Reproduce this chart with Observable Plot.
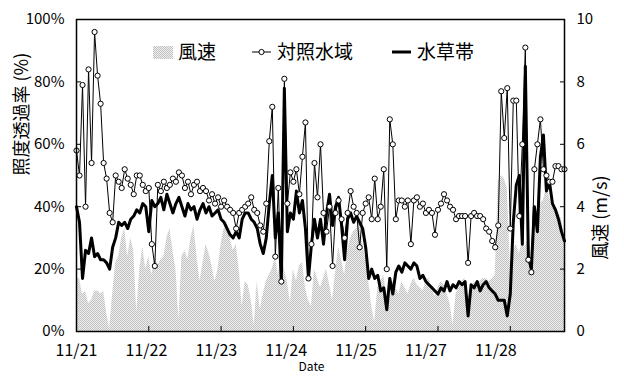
<!DOCTYPE html>
<html>
<head>
<meta charset="utf-8">
<script src="https://cdn.jsdelivr.net/npm/d3@7"></script>
<script src="https://cdn.jsdelivr.net/npm/@observablehq/plot@0.6"></script>
<style>
  body { margin: 0; background: #fff; }
  #chart { width: 624px; height: 377px; }
</style>
</head>
<body>
<div id="chart"></div>
<script>
// Date labels along the bottom axis (one per day; 11/26 was not recorded)
const dayLabels = ["11/21", "11/22", "11/23", "11/24", "11/25", "11/27", "11/28"];

// Hourly light transmittance (%) – open water (control)
const controlWater = [
  58, 50, 79, 40, 84, 54, 96, 82, 73, 54, 49, 38, 35, 50, 48, 46, 52, 49, 47, 44, 50, 50, 47, 45,
  46, 28, 21, 47, 45, 48, 46, 47, 49, 48, 51, 50, 46, 48, 44, 47, 48, 45, 46, 45, 42, 44, 41, 43,
  40, 42, 40, 39, 38, 33, 38, 39, 40, 41, 43, 39, 38, 34, 32, 41, 61, 72, 24, 46, 16, 81, 41, 51,
  48, 52, 44, 56, 67, 17, 28, 54, 43, 60, 38, 32, 40, 21, 38, 42, 36, 30, 38, 45, 40, 38, 27, 38,
  41, 43, 36, 49, 36, 40, 52, 20, 68, 60, 36, 42, 42, 40, 42, 28, 42, 43, 40, 41, 38, 39, 38, 31,
  39, 41, 44, 42, 40, 39, 36, 37, 37, 37, 22, 37, 38, 37, 37, 36, 33, 32, 29, 27, 34, 77, 62, 78,
  33, 74, 74, 37, 60, 91, 23, 19, 52, 60, 68, 52, 50, 48, 48, 53, 53, 52, 52
];

// Hourly light transmittance (%) – aquatic plant zone
const plantZone = [
  40, 35, 17, 26, 25, 30, 24, 25, 23, 23, 22, 20, 27, 30, 35, 34, 35, 33, 36, 37, 39, 38, 41, 40,
  32, 42, 40, 41, 43, 39, 44, 41, 38, 41, 43, 40, 37, 41, 39, 40, 36, 39, 41, 38, 40, 37, 38, 39,
  36, 35, 33, 31, 30, 32, 30, 36, 38, 38, 36, 35, 33, 28, 25, 30, 41, 50, 30, 38, 16, 78, 32, 38,
  36, 45, 38, 42, 33, 17, 28, 36, 30, 36, 28, 38, 44, 34, 40, 43, 34, 23, 36, 38, 35, 37, 35, 33,
  27, 17, 20, 17, 18, 13, 14, 7, 17, 12, 19, 21, 19, 22, 21, 20, 22, 21, 17, 18, 16, 15, 14, 13,
  12, 14, 13, 16, 13, 15, 14, 16, 15, 16, 5, 15, 14, 16, 13, 15, 16, 14, 13, 12, 10, 10, 10, 5,
  12, 35, 47, 50, 28, 85, 24, 20, 40, 32, 56, 63, 45, 48, 41, 39, 36, 32, 29
];

// Hourly wind speed (m/s)
const windSpeed = [
  1.7, 1.7, 1.2, 1.3, 0.9, 1.0, 1.3, 1.3, 1.2, 1.3, 0.6, 0.1, 1.2, 2.2, 2.4, 3.0, 3.3, 2.4, 3.0, 2.6, 0.6, 2.0, 2.7, 2.0,
  2.4, 1.8, 2.4, 2.1, 2.3, 2.4, 3.0, 3.3, 2.6, 2.0, 0.4, 2.4, 2.6, 2.3, 3.0, 3.4, 2.4, 1.6, 2.2, 2.8, 2.5, 2.1, 1.6, 2.0,
  2.8, 3.3, 3.5, 3.0, 2.6, 2.8, 2.0, 0.8, 1.6, 1.5, 1.0, 0.2, 1.6, 0.7, 1.2, 1.6, 1.8, 2.0, 2.4, 1.8, 2.5, 2.0, 1.6, 0.9,
  2.0, 1.6, 2.1, 2.2, 1.4, 1.0, 0.8, 2.0, 1.7, 1.4, 1.7, 2.0, 1.5, 1.0, 1.9, 2.7, 2.3, 1.8, 2.6, 3.0, 3.2, 3.3, 3.5, 2.8,
  2.3, 1.6, 0.8, 0.3, 1.4, 1.6, 1.8, 1.1, 1.4, 1.6, 1.4, 1.2, 1.6, 1.4, 1.2, 1.5, 1.7, 1.5, 1.4, 1.3, 1.6, 1.7, 1.4, 1.1,
  1.4, 1.6, 1.5, 1.2, 0.9, 0.2, 1.2, 1.4, 1.6, 1.7, 1.1, 1.3, 1.6, 1.5, 1.6, 1.7, 1.7, 1.6, 1.7, 1.8, 4.8, 5.0, 4.9, 4.6,
  2.2, 2.6, 2.8, 2.5, 2.9, 2.7, 3.0, 2.5, 3.3, 3.7, 4.1, 4.2, 4.6, 4.3, 4.0, 3.9, 3.8, 3.6, 3.0
];

// Axis ticks
const pctTicks = [0, 20, 40, 60, 80, 100];          // left axis (%), right axis = value / 10 (m/s)
const dayTicks = dayLabels.map((_, k) => k * 24);   // tick at each midnight (hours)
const labelStep = 23.2;                              // spacing of date labels (hours)
const labelHours = dayLabels.map((_, k) => k * labelStep);

const rows = controlWater.map((v, i) => ({
  t: i,
  control: v,
  plant: plantZone[i],
  wind: windSpeed[i]
}));

const font = '"Noto Sans CJK JP", "Noto Sans", sans-serif';

const chart = Plot.plot({
  width: 624,
  height: 377,
  marginLeft: 76,
  marginRight: 60,
  marginTop: 19,
  marginBottom: 46,
  style: { fontFamily: font, background: "#fff", color: "#000", overflow: "visible" },
  x: { domain: [0, 162], label: null },
  y: { domain: [0, 100], label: null },
  marks: [
    // wind speed shown on the same 0–100 scale (1 m/s = 10 units)
    Plot.areaY(rows, { x: "t", y: d => d.wind * 10, fill: "url(#wind-dots)" }),
    Plot.lineY(rows, { x: "t", y: "control", stroke: "#000", strokeWidth: 1 }),
    Plot.lineY(rows, { x: "t", y: "plant", stroke: "#000", strokeWidth: 3, strokeLinejoin: "round" }),
    Plot.dot(rows, { x: "t", y: "control", r: 2.6, fill: "#fff", stroke: "#000", strokeWidth: 1 }),
    Plot.frame({ stroke: "#000", strokeWidth: 1.5 }),
    Plot.axisY(pctTicks, { anchor: "left", label: null, tickSize: -5, tickPadding: 17, tickFormat: d => d + "%", fontSize: 15 }),
    Plot.axisY(pctTicks, { anchor: "right", label: null, tickSize: -5, tickPadding: 17, tickFormat: d => String(d / 10), fontSize: 15 }),
    Plot.axisX(dayTicks, { anchor: "bottom", label: null, tickSize: -5, tickFormat: () => "" }),
    Plot.axisX(labelHours, { anchor: "bottom", label: null, tickSize: 0, tickPadding: 13,
      tickFormat: d => dayLabels[Math.round(d / labelStep)], fontSize: 16 }),
    Plot.text(["照度透過率 (%)"], { frameAnchor: "left", rotate: -90, dx: -54, fontSize: 18 }),
    Plot.text(["風速 (m/s)"], { frameAnchor: "right", rotate: -90, dx: 37, fontSize: 18 }),
    Plot.text(["Date"], { frameAnchor: "bottom", dx: -9, dy: 39, fontSize: 12 })
  ]
});

document.getElementById("chart").appendChild(chart);

// dotted grey fill used for the wind-speed area
const svg = d3.select(chart);
svg.insert("defs", ":first-child").html(
  '<pattern id="wind-dots" width="2" height="2" patternUnits="userSpaceOnUse">' +
  '<rect width="2" height="2" fill="#f0f0f0"/>' +
  '<rect width="1" height="1" fill="#c0c0c0"/>' +
  '<rect x="1" y="1" width="1" height="1" fill="#c0c0c0"/>' +
  '</pattern>'
);

// legend inside the plot area
const legend = svg.append("g")
  .attr("font-family", font)
  .attr("font-size", 19)
  .attr("text-anchor", "start")
  .attr("fill", "#000");
const ly = 52;
legend.append("rect").attr("x", 153).attr("y", ly - 6).attr("width", 20).attr("height", 13)
  .attr("fill", "url(#wind-dots)");
legend.append("text").attr("x", 178).attr("y", ly).attr("dy", "0.35em").text("風速");
legend.append("line").attr("x1", 252).attr("x2", 271).attr("y1", ly).attr("y2", ly)
  .attr("stroke", "#000").attr("stroke-width", 1);
legend.append("circle").attr("cx", 261.5).attr("cy", ly).attr("r", 2.6)
  .attr("fill", "#fff").attr("stroke", "#000");
legend.append("text").attr("x", 277).attr("y", ly).attr("dy", "0.35em").text("対照水域");
legend.append("line").attr("x1", 392).attr("x2", 411).attr("y1", ly).attr("y2", ly)
  .attr("stroke", "#000").attr("stroke-width", 3);
legend.append("text").attr("x", 417).attr("y", ly).attr("dy", "0.35em").text("水草帯");
</script>
</body>
</html>
